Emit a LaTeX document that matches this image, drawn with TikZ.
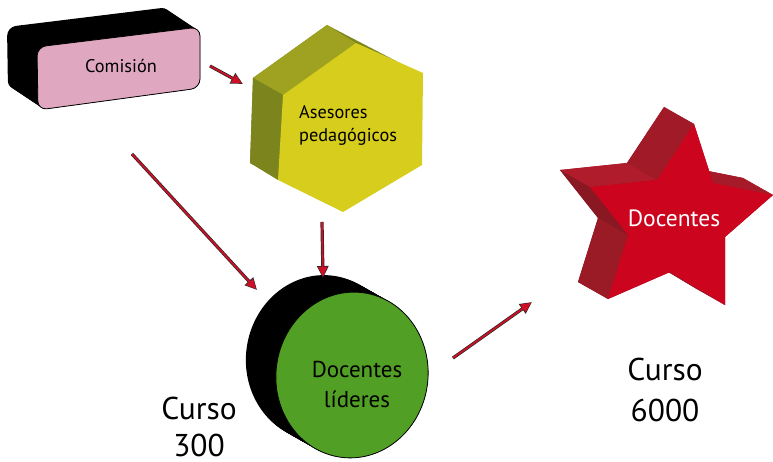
\documentclass[tikz,border=0pt]{standalone}
\usepackage{fontspec}
\setmainfont{PT Sans}
\usetikzlibrary{arrows.meta}
\definecolor{pinkc}{RGB}{223,168,192}
\definecolor{yelF}{RGB}{214,205,28}
\definecolor{yelT}{RGB}{158,162,32}
\definecolor{yelL}{RGB}{124,132,30}
\definecolor{redF}{RGB}{204,4,30}
\definecolor{redB}{RGB}{150,24,38}
\definecolor{redA}{RGB}{176,28,44}
\definecolor{redC}{RGB}{160,26,40}
\definecolor{redD}{RGB}{138,24,34}
\definecolor{redE}{RGB}{154,26,38}
\definecolor{redG}{RGB}{166,27,42}
\definecolor{grnF}{RGB}{82,159,37}
\definecolor{arrred}{RGB}{206,16,38}
\tikzset{
  arrbase/.style={line width=3.2pt, draw=black!85, -{Triangle[length=12pt,width=11pt]}},
  arrtop/.style={line width=1.8pt, draw=arrred, -{Triangle[length=10pt,width=9pt]}, shorten >=1.2pt},
  lbl/.style={inner sep=0pt, align=center, text=black},
}
\begin{document}
\begin{tikzpicture}[x=1pt,y=-1pt]
\useasboundingbox (0,0) rectangle (773,462);

% ---- Comision (extruded rounded box)
\foreach \k in {0,...,20}{
  \fill[black, rounded corners=9pt, shift={({-30+1.5*\k},{-20+\k})}]
    (37,47) -- (200,27) -- (200,88) -- (38,110) -- cycle;
}
\draw[fill=pinkc, line width=0.8pt, rounded corners=9pt]
  (37,47) -- (200,27) -- (200,88) -- (38,110) -- cycle;
\node[lbl, font=\fontsize{18.3}{20}\selectfont] (com) at (121,66) {Comisión};

% ---- Asesores (extruded hexagon)
\fill[yelL] (327,25) -- (396,61) -- (394,148) -- (315,195) -- (250,163) -- (253,78) -- cycle;
\fill[yelT] (283,95) -- (356,43) -- (327,25) -- (253,78) -- cycle;
\fill[yelL] (278,180) -- (283,95) -- (253,78) -- (250,163) -- cycle;
\fill[yelF] (356,43) -- (423,73) -- (422,165) -- (343,212) -- (278,180) -- (283,95) -- cycle;
\node[lbl, align=left, anchor=west, font=\fontsize{18.3}{23}\selectfont] (ase) at (299,125) {Asesores\\pedagógicos};

% ---- Docentes (extruded star)
\fill[redB] (664,107) -- (683,166) -- (743,178) -- (695,220) -- (695,288) -- (640,255) -- (578,282) -- (598,218) -- (560,170) -- (627,163) -- cycle;
% hidden sides
\fill[redB] (694,124) -- (713,183) -- (683,166) -- (664,107) -- cycle;
\fill[redB] (773,195) -- (725,237) -- (695,220) -- (743,178) -- cycle;
\fill[redB] (725,237) -- (725,305) -- (695,288) -- (695,220) -- cycle;
\fill[redB] (725,305) -- (670,272) -- (640,255) -- (695,288) -- cycle;
\fill[redB] (670,272) -- (608,299) -- (578,282) -- (640,255) -- cycle;
% visible sides
\fill[redG] (713,183) -- (773,195) -- (743,178) -- (683,166) -- cycle;
\fill[redE] (608,299) -- (628,235) -- (598,218) -- (578,282) -- cycle;
\fill[redD] (628,235) -- (590,187) -- (560,170) -- (598,218) -- cycle;
\fill[redA] (590,187) -- (657,180) -- (627,163) -- (560,170) -- cycle;
\fill[redC] (657,180) -- (694,124) -- (664,107) -- (627,163) -- cycle;
\fill[redF] (694,124) -- (713,183) -- (773,195) -- (725,237) -- (725,305) -- (670,272) -- (608,299) -- (628,235) -- (590,187) -- (657,180) -- cycle;
\node[lbl, text=white, font=\fontsize{23.5}{26}\selectfont] (doc) at (674,218) {Docentes};

% ---- Docentes lideres (extruded cylinder)
\foreach \k in {0,...,24}{
  \fill[black, rotate around={-8:({322+1.25*\k},{358+0.7083*\k})}]
    ({322+1.25*\k},{358+0.7083*\k}) ellipse [x radius=76, y radius=83];
}
\draw[fill=grnF, line width=0.8pt, rotate around={-8:(352,375)}]
  (352,375) ellipse [x radius=76, y radius=83];
\node[lbl, font=\fontsize{23}{30}\selectfont] (dl) at (357,384) {Docentes\\líderes};

% ---- Curso labels
\node[lbl, font=\fontsize{31.5}{37}\selectfont] (c300) at (199,427) {Curso\\300};
\node[lbl, font=\fontsize{31.5}{41}\selectfont] (c6000) at (665,390) {Curso\\6000};

% ---- arrows
\coordinate (a1s) at (210,66);  \coordinate (a1e) at (243,84);
\coordinate (a2s) at (132,154); \coordinate (a2e) at (257,290);
\coordinate (a3s) at (322,222); \coordinate (a3e) at (323,278);
\coordinate (a4s) at (453,358); \coordinate (a4e) at (532,302);
\foreach \s/\e in {a1s/a1e,a2s/a2e,a3s/a3e,a4s/a4e}{
  \draw[arrbase] (\s) -- (\e);
  \draw[arrtop] (\s) -- (\e);
}
\end{tikzpicture}
\end{document}
